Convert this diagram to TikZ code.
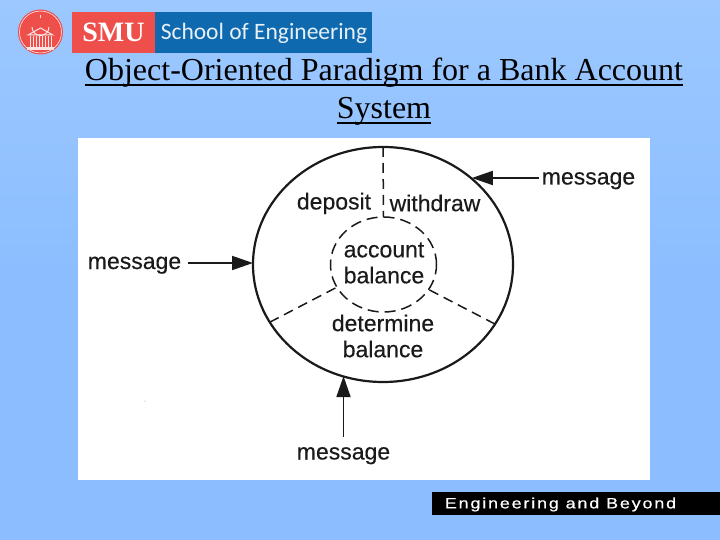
\documentclass[tikz,border=0pt]{standalone}
\usepackage{fontspec}
\usepackage{tikz}
\usetikzlibrary{shapes.geometric, arrows.meta}
\setmainfont{Liberation Serif}
\setsansfont[FakeBold=0.3]{Liberation Sans}
\newfontfamily\logofont{Carlito}
\newfontfamily\spacedfont[FakeStretch=1.2, LetterSpace=12, FakeBold=0.5]{Liberation Sans}
\definecolor{slidetop}{HTML}{9CC8FF}
\definecolor{slidebottom}{HTML}{8CBEFF}
\definecolor{smured}{HTML}{EE4F4B}
\definecolor{smublue}{HTML}{0F69AF}
\definecolor{ink}{HTML}{1A1A1A}
\colorlet{pale}{white!85!smured}
\newcommand{\titleline}[1]{\vtop{\hbox{\smash{#1}}\kern3.2pt\hrule height 2pt}}
\tikzset{
	msg/.style={inner sep=0, text=ink, anchor=base, font=\sffamily\fontsize{23}{26}\selectfont},
	lbl/.style={inner sep=0, text=ink, align=center, font=\sffamily\fontsize{23}{26}\selectfont},
	ring/.style={draw=ink, ellipse, inner sep=0, outer sep=0},
	split/.style={draw=ink, line width=1.5pt, dash pattern=on 10pt off 6pt},
	msgarrow/.style={draw=ink, line width=1.8pt, -{Stealth[length=21pt, width=14pt, inset=0pt]}}
}

\begin{document}
\begin{tikzpicture}[x=1pt, y=-1pt]
	\useasboundingbox (0,0) rectangle (720,540);
	\shade[top color=slidetop, bottom color=slidebottom, middle color=slidebottom] (0,0) rectangle (720,540);
	
	% logo
	\fill[smured] (40.5,32) circle[radius=22.5];
	\draw[white, line width=0.5pt] (40.5,32) circle[radius=21];
	\draw[pale, line width=1pt] (32,27) arc[start angle=180, end angle=0, radius=8.5];
	\draw[pale, line width=1.2pt] (40.5,18.5) -- (40.5,15);
	\draw[pale, line width=1pt] (28,35) -- (40.5,28) -- (53,35) -- cycle;
	\foreach \colx in {30,33,36,39,42,45,48,51}
		\draw[pale, line width=1pt] (\colx,36) -- (\colx,47);
	\fill[pale] (27,47) rectangle (54,50);
	\fill[smublue] (155,12) rectangle (372,53.5);
	\fill[smured] (72,12) rectangle (155,53.5);
	\node[inner sep=0, text=white, font=\fontsize{28}{28}\selectfont\bfseries] (smu) at (113.5,32) {SMU};
	\node[inner sep=0, text=white!90!smublue, font=\logofont\fontsize{23.5}{24}\selectfont] (school) at (264,33) {School of Engineering};
	
	% title
	\node[inner sep=0, align=center, font=\fontsize{32}{38}\selectfont] (title) at (384,102) {\titleline{Object-Oriented Paradigm for a Bank Account}\\\titleline{System}};
	
	% white picture
	\fill[white] (78,138) rectangle (650,480);
	\fill[gray] (145,401) circle[radius=0.5];
	
	\node[ring, line width=2.2pt, minimum width=260pt, minimum height=235pt] (outer) at (383,264.5) {};
	\node[ring, line width=1.5pt, dash pattern=on 11pt off 6pt, minimum width=106pt, minimum height=95pt] (inner) at (383.5,264.5) {};
	
	\draw[split] (outer.90) -- (inner.90);
	\draw[split] (outer.207.6) -- (inner.206.8);
	\draw[split] (outer.332.4) -- (inner.331);
	
	\node[lbl] (deposit) at (334,203.5) {deposit};
	\node[lbl] (withdraw) at (435,203) {withdraw};
	\node[lbl] (account) at (384,263) {account\\balance};
	\node[lbl] (determine) at (383,336) {determine\\balance};
	
	\node[msg] (msgleft) at (134.5,269) {message};
	\node[msg] (msgright) at (588.5,184.5) {message};
	\node[msg] (msgbottom) at (343.5,459.5) {message};
	
	\path (msgleft.base east) ++(7,-6) coordinate (tailleft);
	\path (msgright.base west) ++(-3,-6.5) coordinate (tailright);
	\path (msgbottom.north) ++(0,-10) coordinate (tailbottom);
	
	\draw[msgarrow] (tailleft) -- (tailleft -| outer.west);
	\draw[msgarrow] (tailright) -- (tailright -| outer.44.5);
	\draw[msgarrow] (tailbottom) -- (tailbottom |- outer.250.8);
	
	% footer
	\fill[black] (432,492) rectangle (720,515);
	\node[inner sep=0, text=white, font=\spacedfont\fontsize{15}{15}\selectfont] (beyond) at (560.5,504.5) {Engineering and Beyond};
\end{tikzpicture}
\end{document}
